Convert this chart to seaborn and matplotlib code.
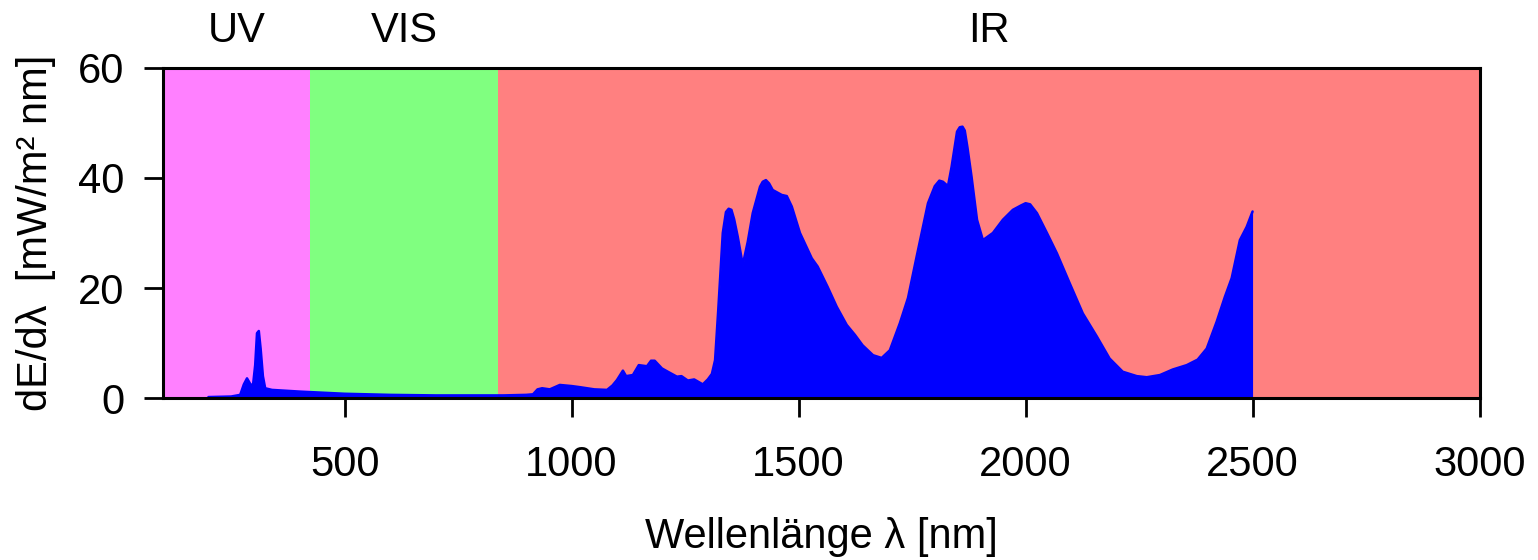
import matplotlib

matplotlib.use("Agg")
import matplotlib.pyplot as plt
import numpy as np
import pandas as pd
import seaborn as sns

# spectral bands (nm) and their colours
band_names = ["UV", "VIS", "IR"]
band_edges = [(100, 424), (424, 837), (837, 3000)]
band_colors = ["#FF80FF", "#80FF80", "#FF8080"]

# spectral irradiance
wavelength = [200, 250, 270, 278, 285, 292, 298, 303, 307, 311, 315, 320, 325, 340,
              400, 450, 500, 600, 700, 800, 850, 900, 915, 925, 935, 952, 974, 1000,
              1018, 1050, 1078, 1090, 1100, 1113, 1120, 1135, 1148, 1166, 1175, 1183,
              1199, 1212, 1232, 1242, 1256, 1270, 1289, 1300, 1309, 1316, 1323, 1333,
              1340, 1346, 1352, 1358, 1366, 1377, 1388, 1399, 1415, 1421, 1428, 1435,
              1443, 1463, 1474, 1485, 1503, 1529, 1542, 1564, 1584, 1606, 1624, 1641,
              1664, 1683, 1701, 1723, 1741, 1760, 1785, 1800, 1810, 1818, 1829, 1837,
              1849, 1855, 1861, 1866, 1872, 1881, 1893, 1906, 1928, 1950, 1972, 1990,
              2000, 2010, 2025, 2047, 2069, 2097, 2126, 2157, 2185, 2214, 2245, 2267,
              2296, 2324, 2355, 2379, 2399, 2421, 2439, 2454, 2472, 2487, 2500]
irradiance = [0.2, 0.3, 0.6, 2.5, 3.6, 2.6, 2.2, 6.0, 11.8, 12.2, 9.0, 4.0, 1.8, 1.5,
              1.2, 1.0, 0.8, 0.6, 0.5, 0.5, 0.5, 0.6, 0.7, 1.6, 1.8, 1.6, 2.4, 2.2,
              2.0, 1.6, 1.5, 2.3, 3.3, 5.0, 4.0, 4.2, 6.0, 5.8, 6.8, 6.8,
              5.4, 4.8, 3.9, 4.0, 3.2, 3.4, 2.5, 3.4, 4.4, 6.9, 16.0, 30.0,
              33.8, 34.4, 34.2, 32.5, 29.3, 24.2, 28.4, 33.6, 38.4, 39.3, 39.6, 39.0,
              37.8, 36.9, 36.7, 34.8, 30.0, 25.4, 23.9, 20.2, 16.6, 13.3, 11.5, 9.6,
              7.8, 7.3, 8.7, 13.6, 18.2, 25.7, 35.4, 38.5, 39.5, 39.3, 38.5, 42.0,
              48.4, 49.2, 49.3, 48.6, 45.5, 40.2, 32.4, 28.7, 30.0, 32.4, 34.2, 35.0,
              35.4, 35.2, 33.6, 30.0, 26.3, 20.9, 15.4, 11.2, 7.2, 4.8, 4.0, 3.8,
              4.2, 5.2, 6.0, 7.0, 9.0, 13.9, 18.4, 21.8, 28.7, 31.1, 33.9]

x_ticks = [500, 1000, 1500, 2000, 2500, 3000]
y_ticks = [0, 20, 40, 60]

sns.set_theme(style="ticks", rc={"text.color": "black", "axes.labelcolor": "black",
                                 "xtick.color": "black", "ytick.color": "black",
                                 "axes.edgecolor": "black"})
plt.rcParams["font.family"] = ["Liberation Sans", "DejaVu Sans"]

FS = 30
df = pd.DataFrame({"wl": wavelength, "E": irradiance})

fig = plt.figure(figsize=(15.38, 5.6), dpi=100)
ax = fig.add_axes([0.106, 0.289, 0.856, 0.590])

for name, (lo, hi), c in zip(band_names, band_edges, band_colors):
    ax.axvspan(lo, hi, color=c, lw=0, zorder=0)
    ax.text((lo + hi) / 2, 1.05, name, transform=ax.get_xaxis_transform(),
            ha="center", va="bottom", fontsize=FS)

ax.fill_between(df["wl"], 0, df["E"], color="#0000FF", lw=0, zorder=2)
sns.lineplot(data=df, x="wl", y="E", ax=ax, color="#0000FF", lw=1.8, zorder=3)

ax.set_xlim(100, 3000)
ax.set_ylim(0, 60)
ax.set_xticks(x_ticks)
ax.set_yticks(y_ticks)
ax.tick_params(axis="x", direction="out", length=14, width=2, pad=20, labelsize=FS)
ax.tick_params(axis="y", direction="out", length=14, width=2, pad=14, labelsize=FS)
ax.set_xlabel("Wellenlänge λ [nm]", fontsize=FS, labelpad=23)
ax.set_ylabel("dE/dλ  [mW/m² nm]", fontsize=FS, labelpad=16)
for s in ax.spines.values():
    s.set_linewidth(2.2)
    s.set_zorder(5)

fig.savefig("out.png", dpi=100, facecolor="white")
plt.close(fig)
